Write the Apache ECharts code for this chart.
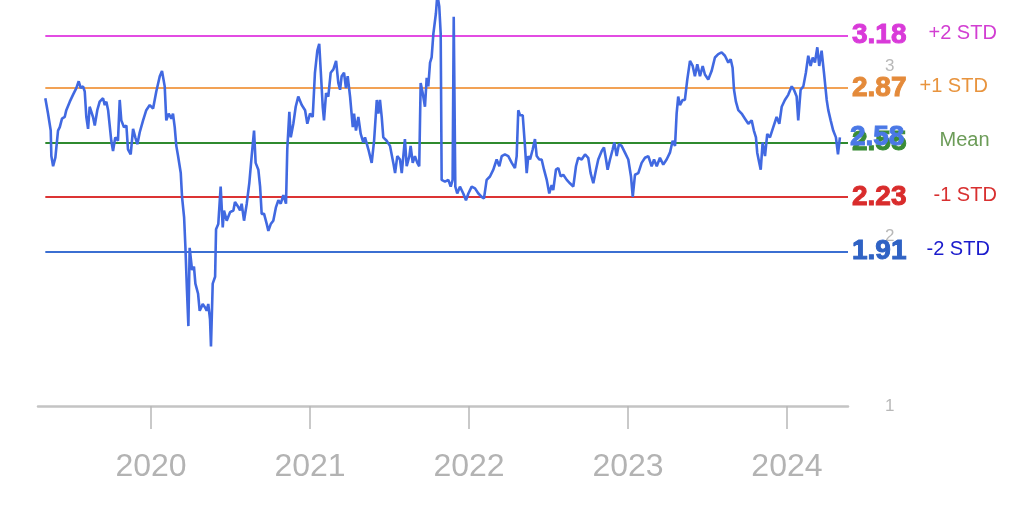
<!DOCTYPE html>
<html>
<head>
<meta charset="utf-8">
<script src="https://cdn.jsdelivr.net/npm/echarts@6/dist/echarts.min.js"></script>
<style>
html,body{margin:0;padding:0;background:#fff;}
#chart{width:1024px;height:518px;}
</style>
</head>
<body>
<div id="chart"></div>
<script>
// decimal years of each observation
const years = [
2019.335,2019.352,2019.369,2019.373,2019.384,2019.398,2019.404,2019.415,2019.426,2019.440,
2019.457,2019.467,2019.489,2019.509,2019.530,2019.545,2019.558,2019.572,2019.583,2019.593,
2019.604,2019.614,2019.625,2019.635,2019.646,2019.662,2019.677,2019.698,2019.709,2019.719,
2019.730,2019.750,2019.761,2019.775,2019.792,2019.803,2019.813,2019.830,2019.845,2019.855,
2019.872,2019.887,2019.901,2019.914,2019.929,2019.950,2019.970,2019.992,2020.013,2020.033,
2020.055,2020.069,2020.086,2020.096,2020.111,2020.128,2020.138,2020.149,2020.159,2020.170,
2020.187,2020.195,2020.208,2020.216,2020.226,2020.235,2020.243,2020.258,2020.270,2020.279,
2020.296,2020.306,2020.316,
2020.325,2020.340,2020.350,2020.360,2020.371,2020.377,2020.388,2020.403,2020.409,2020.423,
2020.438,2020.451,2020.459,2020.476,2020.497,2020.518,2020.528,2020.549,2020.560,2020.570,
2020.585,2020.602,2020.618,2020.633,2020.648,2020.658,2020.675,2020.686,2020.696,2020.711,
2020.728,2020.738,2020.753,2020.769,2020.786,2020.801,2020.816,2020.832,2020.849,2020.857,
2020.870,2020.879,2020.895,2020.910,2020.926,2020.948,2020.969,2020.983,2021.000,2021.017,
2021.031,2021.046,2021.058,2021.067,2021.080,2021.088,2021.101,2021.115,2021.130,2021.147,
2021.164,2021.178,2021.189,2021.199,2021.214,2021.226,2021.237,2021.252,2021.269,2021.277,
2021.289,2021.304,2021.319,
2021.335,2021.346,2021.367,2021.388,2021.403,2021.420,2021.430,2021.440,2021.451,2021.461,
2021.482,2021.503,2021.524,2021.535,2021.549,2021.566,2021.577,2021.587,2021.597,2021.608,
2021.625,2021.633,2021.646,2021.660,2021.675,2021.687,2021.696,2021.709,2021.723,2021.734,
2021.744,2021.755,2021.765,2021.776,2021.792,2021.801,2021.813,2021.822,2021.828,2021.849,
2021.870,2021.885,2021.897,2021.904,2021.914,2021.926,2021.943,2021.964,2021.981,2021.996,
2022.017,2022.038,2022.059,2022.080,2022.094,2022.111,2022.132,2022.153,2022.174,2022.191,
2022.206,2022.226,2022.247,2022.269,2022.289,2022.300,2022.310,2022.321,2022.338,
2022.352,2022.363,2022.373,2022.384,2022.401,2022.415,2022.426,2022.442,2022.457,2022.472,
2022.489,2022.505,2022.520,2022.530,2022.547,2022.562,2022.577,2022.593,2022.615,2022.635,
2022.656,2022.673,2022.687,2022.709,2022.730,2022.750,2022.765,2022.782,2022.799,2022.813,
2022.835,2022.849,2022.862,2022.872,2022.887,2022.904,2022.914,2022.929,2022.943,2022.960,
2022.981,2023.002,2023.019,2023.030,2023.044,2023.065,2023.086,2023.107,2023.128,2023.149,
2023.164,2023.181,2023.201,2023.222,2023.243,2023.264,2023.281,2023.296,2023.306,2023.316,
2023.327,2023.344,
2023.358,2023.373,2023.390,2023.407,2023.421,2023.436,2023.453,2023.470,2023.484,2023.505,
2023.526,2023.547,2023.568,2023.589,2023.610,2023.631,2023.646,2023.658,2023.667,2023.679,
2023.694,2023.715,2023.736,2023.757,2023.778,2023.792,2023.805,2023.813,2023.826,2023.835,
2023.847,2023.862,2023.876,2023.893,2023.914,2023.935,2023.952,2023.967,2023.987,2024.008,
2024.030,2024.044,2024.061,2024.071,2024.086,2024.103,2024.119,2024.134,2024.149,2024.162,
2024.176,2024.191,2024.203,2024.218,2024.233,2024.250,2024.260,2024.275,2024.291,2024.308,
2024.321,2024.333
];
const values = [
2.81,2.72,2.62,2.47,2.41,2.46,2.45,2.62,2.64,2.69,
2.70,2.74,2.79,2.83,2.87,2.91,2.87,2.88,2.85,2.70,
2.63,2.76,2.77,2.70,2.65,2.74,2.79,2.81,2.77,2.79,
2.74,2.56,2.50,2.58,2.56,2.80,2.68,2.64,2.65,2.51,
2.48,2.63,2.58,2.54,2.61,2.68,2.74,2.77,2.75,2.85,
2.94,2.97,2.88,2.68,2.72,2.69,2.72,2.64,2.53,2.47,
2.37,2.23,2.11,1.94,1.68,1.47,1.93,1.80,1.82,1.72,
1.66,1.56,1.58,
1.60,1.58,1.56,1.60,1.51,1.35,1.72,1.76,2.04,2.07,
2.29,2.05,2.15,2.09,2.14,2.15,2.20,2.17,2.15,2.19,
2.09,2.19,2.31,2.47,2.62,2.43,2.39,2.29,2.13,2.13,
2.07,2.03,2.07,2.09,2.17,2.21,2.19,2.24,2.19,2.51,
2.73,2.58,2.66,2.76,2.82,2.77,2.74,2.66,2.72,2.70,
2.96,3.09,3.13,2.98,2.76,2.68,2.84,2.82,2.96,2.98,
3.03,2.90,2.86,2.94,2.96,2.87,2.94,2.82,2.64,2.72,
2.62,2.70,2.60,
2.55,2.58,2.51,2.43,2.56,2.80,2.72,2.80,2.70,2.58,
2.56,2.53,2.43,2.37,2.47,2.45,2.37,2.47,2.57,2.41,
2.47,2.53,2.43,2.47,2.43,2.41,2.90,2.84,2.76,2.93,
2.88,3.02,3.05,3.19,3.31,3.42,3.35,3.19,2.33,2.32,
2.33,2.29,2.33,3.29,2.29,2.25,2.29,2.25,2.21,2.25,
2.29,2.28,2.25,2.23,2.22,2.33,2.35,2.39,2.45,2.41,
2.47,2.48,2.47,2.43,2.40,2.47,2.74,2.71,2.71,
2.53,2.37,2.47,2.45,2.51,2.57,2.47,2.45,2.45,2.39,
2.33,2.25,2.30,2.27,2.39,2.40,2.35,2.36,2.33,2.31,
2.29,2.41,2.46,2.45,2.48,2.46,2.37,2.31,2.39,2.45,
2.50,2.52,2.45,2.39,2.45,2.51,2.55,2.47,2.54,2.53,
2.49,2.45,2.35,2.23,2.36,2.37,2.43,2.46,2.47,2.41,
2.45,2.41,2.46,2.42,2.45,2.49,2.56,2.53,2.72,2.82,
2.77,2.80,
2.80,2.92,3.03,3.00,2.94,3.01,2.94,3.00,2.95,2.92,
2.97,3.05,3.07,3.08,3.06,3.02,3.04,2.99,2.86,2.79,
2.74,2.72,2.69,2.66,2.68,2.62,2.58,2.49,2.43,2.39,
2.55,2.47,2.60,2.58,2.64,2.70,2.66,2.76,2.80,2.83,
2.88,2.86,2.82,2.68,2.86,2.88,2.96,3.06,3.00,3.05,
3.02,3.11,3.00,3.09,2.96,2.80,2.74,2.68,2.62,2.58,
2.48,2.58
];
const yearTicks = [2020, 2021, 2022, 2023, 2024];
const levelValues = [3.18, 2.87, 2.55, 2.23, 1.91];
const levelNames = ['+2 STD', '+1 STD', 'Mean', '-1 STD', '-2 STD'];
const yTicks = [1, 2, 3];

const X_MIN = 2019.289, X_MAX = 2024.384;
const FONT = "'Liberation Sans', Arial, Helvetica, sans-serif";
const lineColors  = ['#e34ce3', '#f2a255', '#2f8a2f', '#dc3434', '#3b6fd2'];
const valueColors = ['#d93ad9', '#e48a3a', '#3a8c36', '#d92c2c', '#2f62c4'];
const nameColors  = ['#d23ed2', '#e8943e', '#6c9c58', '#d83030', '#1a1acc'];
const nameGaps    = [22, 13, 33, 27, 20];

const n = Math.min(years.length, values.length);
const data = [];
for (let i = 0; i < n; i++) data.push([years[i], values[i]]);

const markData = levelValues.map((v, i) => [
  {
    coord: [years[0], v],
    lineStyle: { color: lineColors[i], width: 2, type: 'solid' },
    label: {
      show: true,
      position: 'end',
      distance: 4,
      formatter: '{v|' + v.toFixed(2) + '}{n|' + levelNames[i] + '}',
      rich: {
        v: { fontSize: 28, fontWeight: 'bold', color: valueColors[i], fontFamily: FONT, verticalAlign: 'middle',
             textBorderColor: valueColors[i], textBorderWidth: 1 },
        n: { fontSize: 20, fontWeight: 'normal', color: nameColors[i], fontFamily: FONT, padding: [0, 0, 3, nameGaps[i]], verticalAlign: 'middle',
             textBorderWidth: 0 }
      }
    }
  },
  { coord: [X_MAX, v] }
]);

const chart = echarts.init(document.getElementById('chart'), null, { renderer: 'canvas' });
chart.setOption({
  animation: false,
  backgroundColor: '#ffffff',
  grid: { left: 38, right: 176, top: 0, bottom: 112, containLabel: false },
  xAxis: {
    type: 'value',
    min: X_MIN,
    max: X_MAX,
    splitLine: { show: false },
    axisLine: { show: true, lineStyle: { color: '#c4c4c4', width: 2.5 } },
    axisTick: { show: true, customValues: yearTicks, length: 23, lineStyle: { color: '#b8b8b8', width: 1.5 } },
    axisLabel: {
      customValues: yearTicks,
      formatter: v => String(Math.round(v)),
      color: '#b3b3b3',
      fontSize: 32,
      fontFamily: FONT,
      margin: 45
    }
  },
  yAxis: {
    type: 'value',
    position: 'right',
    min: 1,
    max: 3.388,
    interval: 1,
    splitLine: { show: false },
    axisLine: { show: false },
    axisTick: { show: false },
    axisLabel: {
      color: '#b8b8b8',
      fontSize: 17,
      margin: 37,
      fontFamily: FONT,
      formatter: v => yTicks.some(t => Math.abs(t - v) < 1e-6) ? String(Math.round(v)) : ''
    }
  },
  series: [{
    type: 'line',
    data: data,
    showSymbol: false,
    clip: true,
    lineStyle: { color: '#4169e1', width: 2.6 },
    z: 3,
    endLabel: {
      show: true,
      distance: 10,
      formatter: p => p.value[1].toFixed(2),
      color: '#4a78e6',
      fontSize: 28,
      fontWeight: 'bold',
      fontFamily: FONT,
      textBorderColor: '#4a78e6',
      textBorderWidth: 1
    },
    markLine: {
      silent: true,
      symbol: 'none',
      z: 2,
      animation: false,
      data: markData
    }
  }]
});
</script>
</body>
</html>
